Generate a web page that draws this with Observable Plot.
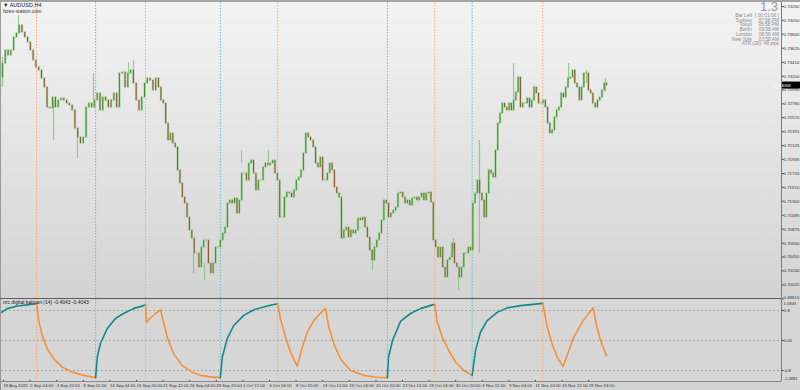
<!DOCTYPE html>
<html><head><meta charset="utf-8">
<script src="https://cdn.jsdelivr.net/npm/d3@7"></script>
<script src="https://cdn.jsdelivr.net/npm/@observablehq/plot@0.6"></script>
<style>
html,body{margin:0;padding:0;}
body{width:800px;height:390px;overflow:hidden;background:#d2d2d2;font-family:"Liberation Sans",Arial,sans-serif;}
#wrap{position:relative;width:800px;height:390px;overflow:hidden;}
.abs{position:absolute;}
#bgMain{left:0;top:2px;width:800px;height:296px;background:linear-gradient(#f3f3f3,#d3d3d3);}
#bgLow{left:0;top:299px;width:800px;height:82px;background:#d6d6d6;}
#bgBot{left:0;top:381px;width:800px;height:9px;background:#d3d3d3;}
#topStrip{left:0;top:0;width:800px;height:2px;background:#a5a5a5;}
#leftLine{left:0;top:0;width:1px;height:390px;background:#9a9a9a;}
#sep{left:0;top:297.5px;width:781px;height:1.6px;background:#5c5c5c;}
#axisLine{left:780.5px;top:2px;width:1px;height:379px;background:#7c7c7c;}
#lowBottom{left:0;top:380.5px;width:781px;height:1px;background:#8a8a8a;}
.t{position:absolute;white-space:nowrap;color:#8a8a8a;font-size:4.8px;line-height:5px;}
</style></head><body>
<div id="wrap">
  <div class="abs" id="bgMain"></div>
  <div class="abs" id="bgLow"></div>
  <div class="abs" id="bgBot"></div>
  <div id="plots"></div>
  <div class="abs" id="topStrip"></div>
  <div class="abs" id="leftLine"></div>
  <div class="abs" id="sep"></div>
  <div class="abs" id="axisLine"></div>
  <div class="abs" id="lowBottom"></div>
  <div class="t" style="left:3px;top:3px;color:#222;font-size:5.5px;">▼ AUDUSD,H4</div>
  <div class="t" style="left:3px;top:8.5px;color:#333;font-size:5px;">forex-station.com</div>
  <div class="t" style="right:22px;top:-0.5px;font-size:13px;line-height:13px;color:#9a9a9a;">1.3</div>
  <div id="info"></div>
  <div class="t" style="left:3px;top:300px;color:#222;font-size:5px;">nrc digital kalman (14) -0.4043 -0.4043</div>
</div>
<script>
// ---------- price data (AUDUSD H4 closes) ----------
const firstOpen = 0.73180;
const spanA = [0, 93.8];
const closesA = [0.73393,0.73591,0.73515,0.73591,0.73789,0.73849,0.73971,0.73865,0.73789,0.73712,0.73591,0.73439,0.73332,0.73287,0.73165,0.73028,0.72724,0.72709,0.72876,0.72724,0.72830,0.72861,0.72830,0.72785,0.72754,0.72678,0.72404,0.72268,0.72176,0.72268,0.72724,0.72785,0.72724,0.72830,0.72937,0.72678,0.72876,0.72830,0.72724,0.72830,0.72937,0.72724,0.73241,0.73256,0.73028,0.73241,0.73287,0.73089,0.72830,0.72678,0.72876,0.73089,0.73165,0.73135,0.72982,0.73165,0.73028];
const spanB = [95.3, 185.3];
const closesB = [0.72830,0.72785,0.72481,0.72222,0.72328,0.72176,0.72115,0.71766,0.71568,0.71355,0.71264,0.71051,0.70853,0.70731,0.70503,0.70503,0.70290,0.70594,0.70701,0.70701,0.70351,0.70199,0.70351,0.70594,0.70594,0.70701,0.70807,0.70899,0.71264,0.71309,0.71264,0.71340,0.71112,0.71309,0.71720,0.71720,0.71614,0.71872,0.71918,0.71720,0.71461,0.71614,0.71614,0.71811,0.71872,0.71842,0.71872,0.71918,0.71720,0.71614,0.71051,0.71051,0.71355,0.71431,0.71416,0.71355,0.71461,0.71614,0.71659,0.71766,0.72024,0.72328,0.72268,0.72222];
const spanC = [186.9, 274.7];
const closesC = [0.72115,0.71872,0.71811,0.71963,0.71614,0.71614,0.71720,0.71872,0.71766,0.71507,0.71416,0.71355,0.70731,0.70853,0.70899,0.70747,0.70853,0.70807,0.70853,0.71036,0.71005,0.71051,0.70899,0.70747,0.70549,0.70397,0.70594,0.70701,0.70807,0.71005,0.71309,0.71264,0.71051,0.71112,0.71157,0.71203,0.71416,0.71431,0.71355,0.71264,0.71309,0.71233,0.71340,0.71355,0.71309,0.71355,0.71416,0.71309,0.71416,0.71431,0.71279,0.70701,0.70594,0.70442,0.70594,0.70290,0.70138,0.70397,0.70442,0.70655,0.70351,0.70290,0.70138];
const spanD = [276.1, 363.3];
const closesD = [0.70290,0.70503,0.70503,0.70594,0.70549,0.71264,0.71416,0.71614,0.71416,0.71309,0.71051,0.71416,0.71766,0.71720,0.71659,0.72070,0.72481,0.72633,0.72785,0.72724,0.72678,0.72785,0.72678,0.72830,0.72952,0.73180,0.72724,0.72785,0.72785,0.72861,0.72724,0.72830,0.73028,0.72937,0.72785,0.72785,0.72830,0.72724,0.72481,0.72328,0.72374,0.72572,0.72678,0.72724,0.72937,0.72876,0.73028,0.73165,0.73180,0.73287,0.73089,0.73028,0.72830,0.73028,0.73241,0.73241,0.72982,0.72937,0.72785,0.72724,0.72830,0.72876,0.72982,0.73089,0.73058];
// long wicks
const spikeBars = [0,9.6,30.7,45.1,54.7,75.8,78.8,114.9,121.5,143.8,160,222.6,271.3,274.3,286.9,307.4,340.5,351.3,362.7];
const spikeHi = [0.73485,0.74123,0.72830,0.72268,0.73241,0.73408,0.73439,0.70503,0.70351,0.72070,0.72070,0.70473,0.70731,0.70168,0.72222,0.73393,0.73393,0.73287,0.73165];
const spikeLo = [0.73028,0.73865,0.72222,0.71948,0.72830,0.73210,0.73256,0.70199,0.70093,0.71872,0.71872,0.70245,0.70549,0.69940,0.70503,0.72830,0.73135,0.73089,0.72952];
const priceTicks = [0.74260,0.74050,0.73840,0.73625,0.73410,0.73200,0.72990,0.72780,0.72570,0.72355,0.72145,0.71935,0.71720,0.71510,0.71300,0.71085,0.70875,0.70660,0.70450,0.70240,0.70025,0.69815];
// ---------- indicator ----------
const eventBars = [20.5,56,86,131,165.5,231.5,260,282.5,325];
const eventDir = ["down","up","down","up","down","up","down","up","down"];
const kalman = [[-0.5,.75],[2.8,.85],[8.8,.92],[14.8,.95],[20.5,.98],
[21.8,.53],[23.9,.13],[26.9,-.22],[30.9,-.49],[35.9,-.71],[41.9,-.84],[48.9,-.93],[56,-.99],
[57,-.44],[58.9,-.08],[63,.32],[68,.59],[72.8,.72],[78.8,.85],[84.8,.93],[86,.96],
[86.6,.48],[89,.6],[92,.72],[95,.82],[99.1,.09],[102.9,-.35],[108.1,-.67],[114.1,-.84],[119.1,-.93],[125.1,-.97],[131,-.99],
[132.2,-.44],[135.2,.05],[139.1,.4],[145.1,.67],[151.2,.82],[159.2,.92],[165.5,.98],
[167.2,.58],[170.2,.09],[173.2,-.31],[177.3,-.69],[180.3,-.18],[183.3,.22],[187.2,.53],[191.3,.73],[194.3,.85],[196.3,.36],[199.3,-.09],[203.3,-.49],[209.3,-.8],[217.3,-.93],[225,-.98],[231.5,-.99],
[232.2,-.44],[234.6,0],[239.4,.51],[245.4,.72],[251.4,.85],[258.6,.95],[260,.96],
[261.5,.49],[264.5,.09],[268.5,-.27],[272.5,-.58],[277.5,-.8],[282.5,-.93],
[284.5,-.27],[287.5,.22],[291.5,.53],[297.6,.75],[303.6,.87],[311.6,.93],[325,.99],
[327.6,.36],[330.6,-.09],[333.6,-.44],[337.2,-.69],[339.6,-.4],[343.6,.09],[348.7,.49],[352.7,.73],[355.3,.87],[357.3,.4],[359.7,0],[363.3,-.4043]];
const indTicks = [0.8, 0, -0.8];
const indMax = 1.0945, indMin = -1.0881;
// ---------- time axis ----------
const timeBars = [0,16,32,48,64,80,96,112,128,144,160,176,192,208,224,240,256,272,288,304,320,336,352];
const timeLabels = ["28 Aug 2020","2 Sep 04:00","4 Sep 20:00","9 Sep 12:00","14 Sep 04:00","16 Sep 20:00","21 Sep 12:00","24 Sep 04:00","28 Sep 20:00","1 Oct 12:00","6 Oct 04:00","8 Oct 20:00","13 Oct 12:00","16 Oct 04:00","20 Oct 20:00","23 Oct 12:00","28 Oct 04:00","30 Oct 20:00","4 Nov 12:00","9 Nov 04:00","11 Nov 20:00","16 Nov 12:00","19 Nov 04:00"];
// ---------- info panel ----------
const infoLabels = ["Bar Left","Sydney","Tokyo","Berlin","London","New York"];
const infoValues = ["[ 00:01:06 ]","07:58 PM","05:58 PM","09:58 AM","08:58 AM","03:58 AM"];
const atrText = "ATR (20): 48 pips";

// ---------- build ----------
const candles = [];
let prev = firstOpen;
[[closesA,spanA],[closesB,spanB],[closesC,spanC],[closesD,spanD]].forEach(([cs,[b0,b1]])=>{
  cs.forEach((c,k)=>{
    const bar = b0 + k*(b1-b0)/(cs.length-1);
    candles.push({bar, open:prev, close:c, lo:Math.min(prev,c), hi:Math.max(prev,c)});
    prev = c;
  });
});
const lastClose = prev;
const spikes = spikeBars.map((b,i)=>({bar:b, lo:spikeLo[i], hi:spikeHi[i]}));
const events = eventBars.map((b,i)=>({bar:b, dir:eventDir[i]}));
const TEAL = "#138a8a", ORANGE = "#f5913a";
const bounds = [-1, ...eventBars, 400];
const indRows = [];
for (let k=0;k<bounds.length-1;k++){
  const col = k===0 ? TEAL : (eventDir[k-1]==="up" ? TEAL : ORANGE);
  kalman.filter(p=>p[0]>=bounds[k] && p[0]<=bounds[k+1]).forEach(p=>indRows.push({bar:p[0], v:p[1], seg:k, col}));
}
const evStroke = d => d.dir==="up" ? "#62c2c2" : "#f6ab74";
const X = {domain:[0,363], range:[2,605.5], axis:null};
const FONT = "Liberation Sans, Arial, sans-serif";

const main = Plot.plot({
  width:800, height:300, marginTop:2, marginBottom:2, marginLeft:1, marginRight:19,
  style:{position:"absolute", top:"0px", left:"0px", background:"transparent", overflow:"visible", fontFamily:FONT},
  x:X,
  y:{domain:[0.69815,0.74260], range:[298.3,6], axis:null},
  color:{type:"identity"},
  marks:[
    Plot.ruleX(events,{x:"bar", stroke:evStroke, strokeDasharray:"1.5,1.5", strokeWidth:1}),
    Plot.ruleX(candles,{x:"bar", y1:"lo", y2:"hi", stroke:"#a2c99b", strokeOpacity:0.7, strokeWidth:2.4, strokeLinecap:"round"}),
    Plot.ruleX(spikes,{x:"bar", y1:"lo", y2:"hi", stroke:"#8fbf86", strokeOpacity:0.85, strokeWidth:1.2}),
    Plot.ruleX(candles,{x:"bar", y1:"open", y2:"close", stroke:d=>d.close>=d.open?"#389a22":"#8a5b2e", strokeWidth:1.1}),
    Plot.axisY(priceTicks,{anchor:"right", tickSize:1.5, tickPadding:0.5, fontSize:4.4, color:"#333", label:null, tickFormat:d=>d.toFixed(5)})
  ]
});
const low = Plot.plot({
  width:800, height:92, marginTop:1, marginBottom:10, marginLeft:1, marginRight:19,
  style:{position:"absolute", top:"298px", left:"0px", background:"transparent", overflow:"visible", fontFamily:FONT},
  x:X,
  y:{domain:[indMin,indMax], range:[82.8,0.96], axis:null},
  color:{type:"identity"},
  marks:[
    Plot.ruleY(indTicks,{stroke:"#9b9b9b", strokeDasharray:"2,2", strokeWidth:0.8}),
    Plot.ruleX(events,{x:"bar", stroke:evStroke, strokeDasharray:"1.5,1.5", strokeWidth:1}),
    Plot.line(indRows,{x:"bar", y:"v", z:"seg", stroke:"col", strokeWidth:1.6}),
    Plot.axisY(indTicks,{anchor:"right", tickSize:1.5, tickPadding:0.5, fontSize:4.4, color:"#333", label:null, tickFormat:d=>d===0?"0.00":d.toFixed(1)}),
    Plot.text([indMax],{y:d=>d, frameAnchor:"right", dx:2, dy:4, text:d=>d.toFixed(4), textAnchor:"start", fontSize:4.2, fill:"#333"}),
    Plot.text([indMin],{y:d=>d, frameAnchor:"right", dx:2, dy:-3, text:d=>d.toFixed(4), textAnchor:"start", fontSize:4.2, fill:"#333"}),
    Plot.axisX(timeBars,{anchor:"bottom", tickSize:2, tickPadding:1.5, fontSize:4.3, color:"#333", label:null, textAnchor:"start", dx:1, tickFormat:d=>timeLabels[timeBars.indexOf(d)]})
  ]
});
const plots = document.getElementById("plots");
plots.appendChild(main);
plots.appendChild(low);

// nudge the bottom price label up, clear of the indicator's max label
d3.select(main).selectAll("text").each(function(){
  if (this.textContent === "0.69815") d3.select(this).attr("dy","-0.25em");
});

// current price box
const yp = main.scale("y").apply(lastClose);
const g = d3.select(main).append("g");
g.append("rect").attr("x",781).attr("y",yp-3.5).attr("width",19).attr("height",7).attr("fill","#000");
g.append("text").attr("x",782.5).attr("y",yp).attr("dy","0.35em").attr("fill","#fff").attr("font-size",4.4)
  .attr("font-family",FONT).text(lastClose.toFixed(5));

// info block
const info = document.getElementById("info");
infoLabels.forEach((lab,i)=>{
  const top = 13 + i*4.7;
  info.insertAdjacentHTML("beforeend",`<div class="t" style="right:48px;top:${top}px">${lab}</div><div class="t" style="right:21px;top:${top}px">${infoValues[i]}</div>`);
});
info.insertAdjacentHTML("beforeend",`<div class="t" style="right:21px;top:${13+6*4.7}px">${atrText}</div>`);
</script>
</body></html>
